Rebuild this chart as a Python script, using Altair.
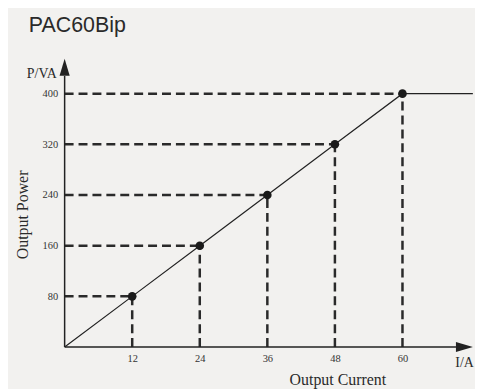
import altair as alt
import pandas as pd

# data
currents = [12, 24, 36, 48, 60]
powers = [80, 160, 240, 320, 400]
line_x = [0, 12, 24, 36, 48, 60, 72.5]
line_y = [0, 80, 160, 240, 320, 400, 400]

X_MAX = 72.88
Y_MAX = 462.7
W, H = 413, 295

pts = pd.DataFrame({"x": currents, "y": powers, "zero": [0] * len(currents)})
line_df = pd.DataFrame({"x": line_x, "y": line_y})

xs = alt.Scale(domain=[0, X_MAX], nice=False, zero=False)
ys = alt.Scale(domain=[0, Y_MAX], nice=False, zero=False)
INK = "#222222"
SERIF = "Liberation Serif"

base = alt.Chart(pts)

hdash = base.mark_rule(strokeDash=[9, 5], strokeWidth=2.5, color="#2a2a2a").encode(
    x=alt.X("zero:Q", scale=xs, axis=alt.Axis(values=currents, domain=False, ticks=False, grid=False,
                                              labelFont=SERIF, labelFontSize=10.5, labelColor="#333",
                                              labelPadding=7, title=None)),
    x2="x:Q",
    y=alt.Y("y:Q", scale=ys, axis=alt.Axis(values=powers, domain=False, ticks=False, grid=False,
                                           labelFont=SERIF, labelFontSize=10.5, labelColor="#333",
                                           labelPadding=7, title=None)),
)
vdash = base.mark_rule(strokeDash=[9, 5], strokeWidth=2.5, color="#2a2a2a").encode(
    x=alt.X("x:Q", scale=xs), y=alt.Y("zero:Q", scale=ys), y2="y:Q"
)

main_line = alt.Chart(line_df).mark_line(color=INK, strokeWidth=1.2).encode(
    x=alt.X("x:Q", scale=xs), y=alt.Y("y:Q", scale=ys)
)

dots = base.mark_point(filled=True, size=75, color="#1a1a1a", opacity=1).encode(
    x=alt.X("x:Q", scale=xs), y=alt.Y("y:Q", scale=ys)
)

axes_df = pd.DataFrame({"x0": [0, 0], "x1": [0, 69.5], "y0": [0, 0], "y1": [428, 0]})
axis_lines = alt.Chart(axes_df).mark_rule(color=INK, strokeWidth=1.5).encode(
    x=alt.X("x0:Q", scale=xs), x2="x1:Q", y=alt.Y("y0:Q", scale=ys), y2="y1:Q"
)

arrow_up = alt.Chart(pd.DataFrame({"x": [0], "y": [441.6]})).mark_point(
    shape="M0,-1L0.6,1L-0.6,1Z", size=289, filled=True, color=INK, opacity=1
).encode(x=alt.X("x:Q", scale=xs), y=alt.Y("y:Q", scale=ys))
arrow_right = alt.Chart(pd.DataFrame({"x": [71.0], "y": [0]})).mark_point(
    shape="M1,0L-1,0.6L-1,-0.6Z", size=289, filled=True, color=INK, opacity=1
).encode(x=alt.X("x:Q", scale=xs), y=alt.Y("y:Q", scale=ys))

def label(text, x, y, size, font, align="left", angle=0, color="#2a2a2a"):
    return alt.Chart(pd.DataFrame({"t": [text]})).mark_text(
        font=font, fontSize=size, align=align, baseline="alphabetic", angle=angle, color=color
    ).encode(x=alt.value(x), y=alt.value(y), text="t:N")

title = label("PAC60Bip", -36, -22, 21.5, "Liberation Sans")
pva = label("P/VA", -8, 24, 14, SERIF, align="right")
ia = label("I/A", 402.5, 315, 14, SERIF, align="center")
xt = label("Output Current", 275, 333, 16, SERIF, align="center")
yt = label("Output Power", -37, 162, 16, SERIF, align="center", angle=270)

chart = alt.layer(
    hdash, vdash, main_line, dots, axis_lines, arrow_up, arrow_right, title, pva, ia, xt, yt
).properties(
    width=W, height=H,
    autosize=alt.AutoSizeParams(type="none"),
    padding={"left": 57, "top": 45, "right": 0, "bottom": 41},
    background="#f2f1ef",
).configure_view(stroke=None)

chart.save("out.html", embed_options={"renderer": "svg", "actions": False})
